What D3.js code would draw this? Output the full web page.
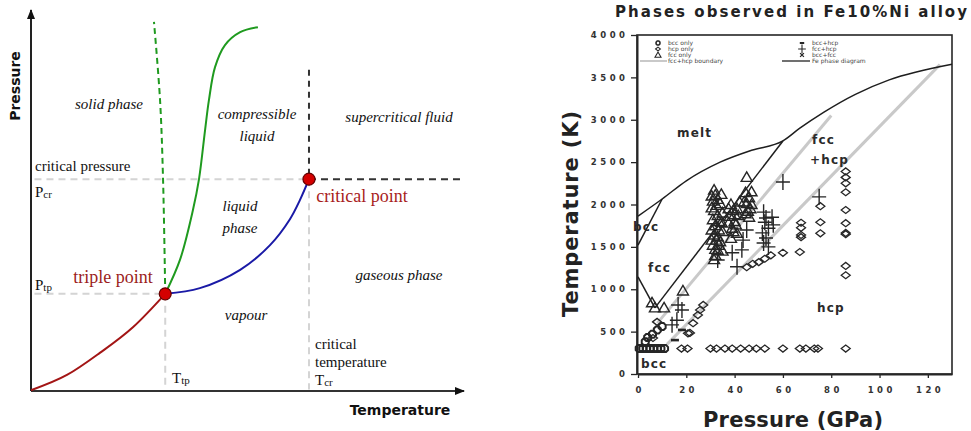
<!DOCTYPE html>
<html>
<head>
<meta charset="utf-8">
<script src="https://cdn.jsdelivr.net/npm/d3@7"></script>
<style>
	body { margin: 0; background: #fff; }
	svg { display: block; }
</style>
</head>
<body>
<svg id="chart" width="971" height="431"></svg>
<script>

// ---- left panel: generic phase diagram (arbitrary units 0-100 on both axes)
const sublimation = [[0, 0.2], [8.3, 4.2], [15.9, 10], [23.6, 16.8], [31, 25.5]]
const vaporization = [[31, 25.5], [39, 27], [48.3, 31.8], [55.2, 38.3], [59.8, 45.1], [62.1, 50.1], [64.2, 55.6]]
const fusion = [[31, 25.5], [34.4, 34.4], [37.4, 47.5], [38.8, 55.6], [40.2, 68.5], [41.1, 76.4], [42.5, 85], [44.8, 90.8], [48.3, 94.2], [52.4, 95.5]]
const fusionWater = [[31, 25.5], [30.5, 55.4], [29.8, 76.4], [28.4, 96.9]]
const triplePoint = [31, 25.5]
const criticalPoint = [64.2, 55.6]

// ---- right panel: Fe10%Ni, [pressure GPa, temperature K]
const pressureTicks = [0, 20, 40, 60, 80, 100, 120]
const temperatureTicks = [0, 500, 1000, 1500, 2000, 2500, 3000, 3500, 4000]

const bccOnly = [[0.5, 300], [2, 300], [3.5, 300], [5, 300], [6.5, 300], [8, 300], [9.5, 300], [11, 300],
	[3, 380], [4, 430], [6, 470], [8, 520], [10, 560]]

const hcpOnly = [[18, 300], [20.5, 300], [30, 300], [32.5, 300], [36, 300], [39, 300], [42.5, 300], [46, 300],
	[49, 300], [52.5, 300], [60, 300], [67, 300], [69.5, 300], [73, 300], [74.5, 300], [86, 300],
	[86, 2390], [86, 2320], [86, 2250], [86, 2145], [86, 1935], [86, 1780], [86, 1665], [86, 1650], [86, 1275], [86, 1165],
	[75.5, 1980], [75.5, 1790], [75.5, 1660],
	[67.5, 1785], [67.5, 1725], [67.5, 1640], [67.5, 1615], [67, 1440],
	[45, 1260], [47.5, 1300], [50, 1320], [52.5, 1360], [55, 1400], [60, 1430],
	[27, 815], [25.7, 755], [24.8, 695], [22.8, 600], [21.5, 485], [20.7, 480], [7.9, 615], [6.2, 425]]

const fccOnly = [[31.5, 2170], [32, 2110], [31, 2040], [32.5, 1990], [31.5, 1930], [33, 1870], [31, 1820], [32, 1750],
	[33.5, 1700], [31.5, 1640], [32.5, 1580], [31, 1520], [33, 1460], [32, 1400], [31.5, 1350],
	[30.5, 2100], [33, 2060], [30.5, 1960], [33.5, 1800], [30.5, 1700], [33, 1620], [30.5, 1580], [33.5, 1520], [32, 1470],
	[34.5, 2120], [34, 2010], [35, 1900], [34.5, 1790], [35, 1680], [34, 1560], [35, 1450],
	[38.5, 2000], [39.5, 1930], [38, 1860], [40, 1800], [39, 1720], [41, 1660], [38.5, 1600], [41, 1950], [42, 2030], [41.5, 1870],
	[37.5, 1950], [40.5, 1760], [39.5, 1680], [37.5, 1780], [40, 1880],
	[45, 2320], [44.5, 2140], [46, 2080], [45, 2010], [46.5, 1950], [44.5, 1890], [46, 1850],
	[47, 2150], [44, 2030], [45.5, 1920], [47, 2000],
	[18.6, 980], [10.8, 780], [7, 780], [5.8, 840]]

const fccHcp = [[60, 2265], [75, 2090],
	[52, 1910], [53, 1840], [52.5, 1790], [54, 1720], [51.5, 1665], [53, 1605], [52, 1545], [54, 1500], [56, 1760], [55.5, 1850],
	[45, 1700], [43.5, 1580], [43, 1465], [39, 1430], [33, 1345], [41, 1265],
	[16.6, 815], [18.2, 755], [16.1, 635], [14.1, 580]]

const bccHcp = [[18.2, 520], [15.3, 400]]

const feMelt = [[0, 1863], [10, 2065], [20, 2280], [34, 2500], [47, 2640], [60, 2750], [67, 2900], [77, 3090], [90, 3300], [104, 3470], [130, 3655]]
const feDeltaGamma = [[0, 1520], [10, 2065]]
const feAlphaGamma = [[0, 1145], [7, 780]]
const feGammaEps = [[7, 780], [60, 2750]]
const boundaryUpper = [[8, 600], [80, 3050]]
const boundaryLower = [[12, 350], [125, 3650]]

const svg = d3.select('#chart')

drawPhaseDiagram()
drawAlloyChart()


function drawPhaseDiagram() {
	const x = d3.scaleLinear().domain([0, 100]).range([31, 464])
	const y = d3.scaleLinear().domain([0, 100]).range([391, 10])
	const g = svg.append('g')

	const defs = svg.append('defs')
	defs.append('marker')
		.attr('id', 'arrow')
		.attr('viewBox', '0 0 10 10')
		.attr('refX', 9).attr('refY', 5)
		.attr('markerWidth', 5).attr('markerHeight', 5)
		.attr('markerUnits', 'strokeWidth')
		.attr('orient', 'auto')
		.append('path')
		.attr('d', 'M0,1 L10,5 L0,9 Z')
		.attr('fill', '#111')

	const tx = triplePoint, cp = criticalPoint

	// guide lines
	function guide(a, b, color, dash) {
		g.append('line')
			.attr('x1', x(a[0])).attr('y1', y(a[1]))
			.attr('x2', x(b[0])).attr('y2', y(b[1]))
			.attr('stroke', color)
			.attr('stroke-width', 2)
			.attr('stroke-dasharray', dash)
	}
	const light = '#d4d4d4'
	guide([0.8, cp[1]], [cp[0], cp[1]], light, '7,5')
	guide([0.8, tx[1]], [tx[0], tx[1]], light, '7,5')
	guide([cp[0], cp[1]], [cp[0], 0.4], light, '7,5')
	guide([tx[0], tx[1]], [tx[0], 0.4], light, '7,5')
	guide([cp[0], cp[1]], [100, cp[1]], '#333', '7,5')
	guide([cp[0], 84.3], [cp[0], cp[1]], '#333', '6,5')

	// axes
	g.append('line')
		.attr('x1', x(0)).attr('y1', y(0)).attr('x2', x(0)).attr('y2', y(100))
		.attr('stroke', '#222').attr('stroke-width', 2).attr('marker-end', 'url(#arrow)')
	g.append('line')
		.attr('x1', x(0)).attr('y1', y(0)).attr('x2', x(100)).attr('y2', y(0))
		.attr('stroke', '#333').attr('stroke-width', 2).attr('marker-end', 'url(#arrow)')

	const line = d3.line()
		.x(d => x(d[0]))
		.y(d => y(d[1]))
		.curve(d3.curveCatmullRom)

	g.append('path').datum(sublimation).attr('d', line.curve(d3.curveMonotoneX))
		.attr('fill', 'none').attr('stroke', '#a31515').attr('stroke-width', 2)
	line.curve(d3.curveCatmullRom)
	g.append('path').datum(vaporization).attr('d', line)
		.attr('fill', 'none').attr('stroke', '#1a1aa6').attr('stroke-width', 2)
	g.append('path').datum(fusion).attr('d', line)
		.attr('fill', 'none').attr('stroke', '#1f9a1f').attr('stroke-width', 2)
	g.append('path').datum(fusionWater).attr('d', line)
		.attr('fill', 'none').attr('stroke', '#1f9a1f').attr('stroke-width', 2)
		.attr('stroke-dasharray', '6,4')

	g.selectAll('circle.pt')
		.data([triplePoint, criticalPoint])
		.enter()
		.append('circle')
		.attr('class', 'pt')
		.attr('cx', d => x(d[0]))
		.attr('cy', d => y(d[1]))
		.attr('r', 6)
		.attr('fill', '#d40000')
		.attr('stroke', '#600')
		.attr('stroke-width', 1.2)

	// labels
	const serif = 'Liberation Serif, Times New Roman, serif'
	function label(t, px, py, opts = {}) {
		return g.append('text')
			.attr('x', px).attr('y', py)
			.attr('font-family', serif)
			.attr('font-size', opts.size || 15)
			.attr('font-style', opts.italic ? 'italic' : 'normal')
			.attr('text-anchor', opts.anchor || 'start')
			.attr('fill', opts.color || '#111')
			.text(t)
	}
	label('solid phase', 109, 109, {italic: true, anchor: 'middle'})
	label('compressible', 257, 119, {italic: true, anchor: 'middle'})
	label('liquid', 257, 141, {italic: true, anchor: 'middle'})
	label('supercritical fluid', 399, 122, {italic: true, anchor: 'middle'})
	label('liquid', 240, 211, {italic: true, anchor: 'middle'})
	label('phase', 240, 233, {italic: true, anchor: 'middle'})
	label('vapour', 246, 320, {italic: true, anchor: 'middle'})
	label('gaseous phase', 399, 280, {italic: true, anchor: 'middle'})
	label('critical pressure', 35, 171)
	label('triple point', 113, 283, {size: 18, color: '#9b1c1c', anchor: 'middle'})
	label('critical point', 362, 202, {size: 18, color: '#a81c1c', anchor: 'middle'})
	label('critical', 315, 349)
	label('temperature', 315, 367)

	function subLabel(main, sub, px, py) {
		const t = label(main, px, py)
		t.append('tspan').attr('font-size', 11).attr('dy', 1).text(sub)
	}
	subLabel('P', 'cr', 35, 197)
	subLabel('P', 'tp', 35, 290)
	subLabel('T', 'tp', 172, 383)
	subLabel('T', 'cr', 315, 385)

	g.append('text')
		.attr('transform', 'translate(20,86) rotate(-90)')
		.attr('text-anchor', 'middle')
		.attr('font-family', 'DejaVu Sans, sans-serif')
		.attr('font-weight', 'bold')
		.attr('font-size', 14)
		.attr('fill', '#111')
		.text('Pressure')
	g.append('text')
		.attr('x', 400).attr('y', 415)
		.attr('text-anchor', 'middle')
		.attr('font-family', 'DejaVu Sans, sans-serif')
		.attr('font-weight', 'bold')
		.attr('font-size', 14)
		.attr('fill', '#111')
		.text('Temperature')
}


function drawAlloyChart() {
	const x = d3.scaleLinear().domain([0, 130]).range([638, 952])
	const y = d3.scaleLinear().domain([0, 4000]).range([374, 35])
	const g = svg.append('g')
	const ink = '#262626'
	const sans = 'DejaVu Sans, Verdana, sans-serif'

	// frame
	g.append('rect')
		.attr('x', x(0) - 1).attr('y', y(4000))
		.attr('width', x(130) - x(0) + 1).attr('height', y(0) - y(4000))
		.attr('fill', 'none').attr('stroke', ink).attr('stroke-width', 1.6)

	const yAxis = d3.axisLeft(y).tickValues(temperatureTicks).tickFormat(d3.format('d'))
		.tickSize(6).tickSizeOuter(0).tickPadding(6)
	const xAxis = d3.axisBottom(x).tickValues(pressureTicks).tickFormat(d3.format('d'))
		.tickSize(4).tickSizeOuter(0).tickPadding(9)

	const ya = g.append('g').attr('transform', 'translate(' + (x(0) - 1) + ',0)').call(yAxis)
	const xa = g.append('g').attr('transform', 'translate(0,' + y(0) + ')').call(xAxis)
	for (const a of [ya, xa]) {
		a.select('.domain').attr('stroke', ink).attr('stroke-width', 2)
		a.selectAll('.tick line').attr('stroke', ink).attr('stroke-width', 1.3)
		a.selectAll('.tick text')
			.attr('font-family', sans)
			.attr('font-weight', 'bold')
			.attr('font-size', 8.5)
			.attr('letter-spacing', 3.5)
			.attr('fill', '#333')
	}
	ya.selectAll('.tick text').attr('dx', 3.5)
	xa.selectAll('.tick text').attr('dx', 1.75)

	// fcc+hcp boundary (gray) and Fe phase diagram (black)
	const line = d3.line().x(d => x(d[0])).y(d => y(d[1]))
	for (const b of [boundaryUpper, boundaryLower]) {
		g.append('path').datum(b).attr('d', line)
			.attr('fill', 'none').attr('stroke', '#c9c9c9').attr('stroke-width', 3)
	}
	g.append('path').datum(feMelt).attr('d', line.curve(d3.curveMonotoneX))
		.attr('fill', 'none').attr('stroke', '#1e1e1e').attr('stroke-width', 1.5)
	line.curve(d3.curveLinear)
	for (const b of [feDeltaGamma, feAlphaGamma, feGammaEps]) {
		g.append('path').datum(b).attr('d', line)
			.attr('fill', 'none').attr('stroke', '#1e1e1e').attr('stroke-width', 1.5)
	}

	// symbols
	const shapes = {
		bcc: 'M-3.5,-1.5 L-1.5,-3.5 L1.5,-3.5 L3.5,-1.5 L3.5,1.5 L1.5,3.5 L-1.5,3.5 L-3.5,1.5 Z',
		hcp: 'M-4.5,0 L0,-3.5 L4.5,0 L0,3.5 Z',
		fcc: 'M0,-5.5 L5.5,4 L-5.5,4 Z',
		fcchcp: 'M-7,0 H7 M0,-8 V8',
		bcchcp: 'M-4,0 H4',
		bccfcc: 'M-3.5,-3.5 L3.5,3.5 M3.5,-3.5 L-3.5,3.5'
	}
	const widths = {bcc: 2, hcp: 1.3, fcc: 1.4, fcchcp: 1.4, bcchcp: 2.6, bccfcc: 1.6}

	function scatter(data, kind) {
		g.append('g')
			.selectAll('path')
			.data(data)
			.enter()
			.append('path')
			.attr('transform', d => 'translate(' + x(d[0]) + ',' + y(d[1]) + ')')
			.attr('d', shapes[kind])
			.attr('fill', 'none')
			.attr('stroke', ink)
			.attr('stroke-width', widths[kind])
	}
	scatter(hcpOnly, 'hcp')
	scatter(bccOnly, 'bcc')
	scatter(fccOnly, 'fcc')
	scatter(fccHcp, 'fcchcp')
	scatter(bccHcp, 'bcchcp')

	// legend
	const leg = g.append('g').attr('font-family', sans).attr('font-size', 6).attr('fill', '#444')
	const legendRows = [
		{kind: 'bcc', text: 'bcc only', sx: 658, tx: 668, ty: 43},
		{kind: 'hcp', text: 'hcp only', sx: 658, tx: 668, ty: 49},
		{kind: 'fcc', text: 'fcc only', sx: 658, tx: 668, ty: 55},
		{kind: 'bcchcp', text: 'bcc+hcp', sx: 802, tx: 812, ty: 43},
		{kind: 'fcchcp', text: 'fcc+hcp', sx: 802, tx: 812, ty: 49},
		{kind: 'bccfcc', text: 'bcc+fcc', sx: 802, tx: 812, ty: 55}
	]
	legendRows.forEach(function(r) {
		leg.append('path')
			.attr('transform', 'translate(' + r.sx + ',' + r.ty + ') scale(0.55)')
			.attr('d', shapes[r.kind])
			.attr('fill', 'none').attr('stroke', ink).attr('stroke-width', widths[r.kind] * 1.4)
		leg.append('text').attr('x', r.tx).attr('y', r.ty + 2).text(r.text)
	})
	leg.append('line').attr('x1', 640).attr('x2', 667).attr('y1', 61).attr('y2', 61)
		.attr('stroke', '#c9c9c9').attr('stroke-width', 2)
	leg.append('text').attr('x', 668).attr('y', 63).text('fcc+hcp  boundary')
	leg.append('line').attr('x1', 782).attr('x2', 810).attr('y1', 61).attr('y2', 61)
		.attr('stroke', '#222').attr('stroke-width', 1.3)
	leg.append('text').attr('x', 812).attr('y', 63).text('Fe phase diagram')

	// region labels
	const regions = [
		{t: 'melt', x: 677, y: 137},
		{t: 'bcc', x: 633, y: 231},
		{t: 'fcc', x: 648, y: 272},
		{t: 'fcc', x: 812, y: 144},
		{t: '+hcp', x: 810, y: 164},
		{t: 'hcp', x: 817, y: 312},
		{t: 'bcc', x: 641, y: 368}
	]
	g.selectAll('text.region')
		.data(regions)
		.enter()
		.append('text')
		.attr('class', 'region')
		.attr('x', d => d.x).attr('y', d => d.y)
		.attr('font-family', sans).attr('font-weight', 'bold')
		.attr('font-size', 12).attr('letter-spacing', 1.2)
		.attr('fill', '#2a2a2a')
		.text(d => d.t)

	// titles
	g.append('text')
		.attr('x', 791).attr('y', 17)
		.attr('text-anchor', 'middle')
		.attr('font-family', sans).attr('font-weight', 'bold').attr('font-size', 15)
		.attr('textLength', 352).attr('lengthAdjust', 'spacing')
		.attr('fill', '#222')
		.text('Phases observed in Fe10%Ni alloy')
	g.append('text')
		.attr('transform', 'translate(578,214) rotate(-90)')
		.attr('text-anchor', 'middle')
		.attr('font-family', sans).attr('font-weight', 'bold').attr('font-size', 21)
		.attr('textLength', 206).attr('lengthAdjust', 'spacing')
		.attr('fill', '#222')
		.text('Temperature (K)')
	g.append('text')
		.attr('x', 793).attr('y', 427)
		.attr('text-anchor', 'middle')
		.attr('font-family', sans).attr('font-weight', 'bold').attr('font-size', 21)
		.attr('textLength', 180).attr('lengthAdjust', 'spacing')
		.attr('fill', '#222')
		.text('Pressure (GPa)')
}
</script>
</body>
</html>
